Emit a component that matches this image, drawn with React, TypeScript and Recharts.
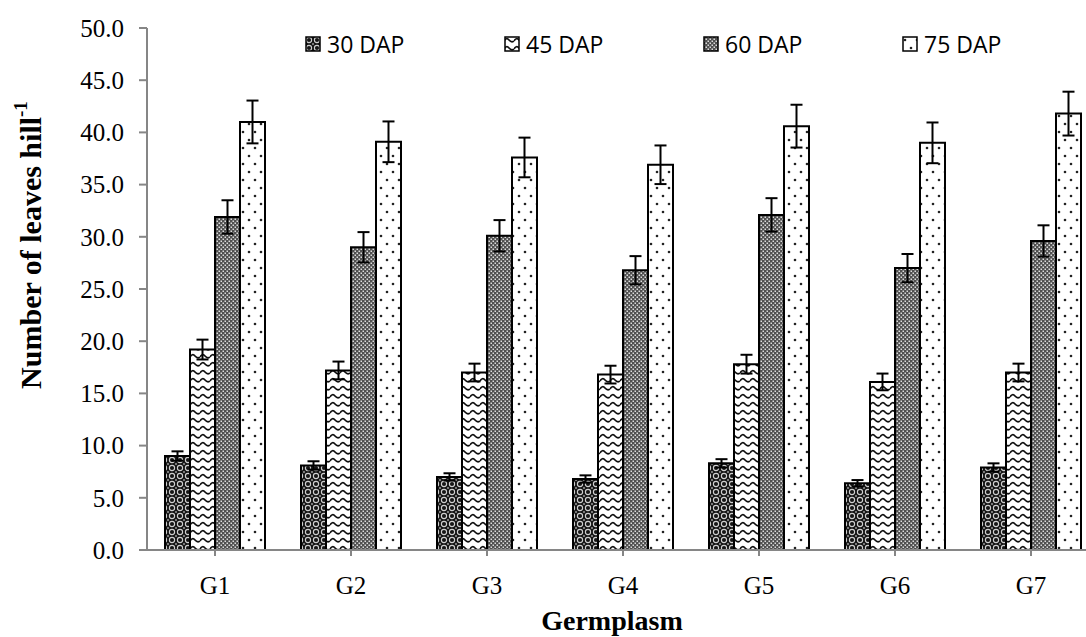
import { BarChart, Bar, XAxis, YAxis, ErrorBar, Label } from "recharts";

const categories = ["G1", "G2", "G3", "G4", "G5", "G6", "G7"];
const dap30 = [9.0, 8.1, 7.0, 6.8, 8.3, 6.4, 7.9];
const dap45 = [19.2, 17.2, 17.0, 16.8, 17.8, 16.1, 17.0];
const dap60 = [31.9, 29.0, 30.1, 26.8, 32.1, 27.0, 29.6];
const dap75 = [41.0, 39.1, 37.6, 36.9, 40.6, 39.0, 41.8];
const err30 = [0.45, 0.4, 0.35, 0.35, 0.4, 0.3, 0.4];
const err45 = [0.95, 0.85, 0.85, 0.85, 0.9, 0.8, 0.85];
const err60 = [1.6, 1.45, 1.5, 1.35, 1.6, 1.35, 1.5];
const err75 = [2.05, 1.95, 1.9, 1.85, 2.05, 1.95, 2.1];
const yTicks = [0, 5, 10, 15, 20, 25, 30, 35, 40, 45, 50];

const SERIES = [
  { key: "d30", err: "e30", label: "30 DAP", pattern: "pat30" },
  { key: "d45", err: "e45", label: "45 DAP", pattern: "pat45" },
  { key: "d60", err: "e60", label: "60 DAP", pattern: "pat60" },
  { key: "d75", err: "e75", label: "75 DAP", pattern: "pat75" },
];

const data = categories.map((name, i) => ({
  name,
  d30: dap30[i],
  d45: dap45[i],
  d60: dap60[i],
  d75: dap75[i],
  e30: err30[i],
  e45: err45[i],
  e60: err60[i],
  e75: err75[i],
}));

const AXIS = "#868686";
const SERIF = "'Liberation Serif', 'Times New Roman', serif";

function Patterns() {
  return (
    <defs>
      {/* dark lattice with light rings */}
      <pattern id="pat30" width="8" height="8" patternUnits="userSpaceOnUse">
        <rect width="8" height="8" fill="#151515" />
        <circle cx="4" cy="4" r="2.6" fill="none" stroke="#cfcfcf" strokeWidth="1.1" />
        <circle cx="0" cy="0" r="1" fill="#9a9a9a" />
        <circle cx="8" cy="0" r="1" fill="#9a9a9a" />
        <circle cx="0" cy="8" r="1" fill="#9a9a9a" />
        <circle cx="8" cy="8" r="1" fill="#9a9a9a" />
      </pattern>
      <pattern id="pat45" width="10" height="8" patternUnits="userSpaceOnUse">
        <rect width="10" height="8" fill="#fff" />
        <path d="M0 5 Q2.5 1 5 4 T10 5" fill="none" stroke="#111" strokeWidth="1.7" />
      </pattern>
      <pattern id="pat60" width="4" height="4" patternUnits="userSpaceOnUse">
        <rect width="4" height="4" fill="#505050" />
        <rect x="0.5" y="0.5" width="1.5" height="1.5" fill="#dcdcdc" />
        <rect x="2.5" y="2.5" width="1.5" height="1.5" fill="#dcdcdc" />
      </pattern>
      <pattern id="pat75" width="12" height="16" patternUnits="userSpaceOnUse">
        <rect width="12" height="16" fill="#fff" />
        <circle cx="3" cy="4" r="1.3" fill="#222" />
        <circle cx="9" cy="12" r="1.3" fill="#222" />
      </pattern>
    </defs>
  );
}

function LegendBox() {
  return (
    <div
      style={{
        position: "absolute",
        left: 305,
        top: 31,
        display: "flex",
        fontFamily: "'Open Sans', sans-serif",
        fontSize: 23,
        color: "#000",
        lineHeight: "26px",
      }}
    >
      {SERIES.map((s) => (
        <div key={s.key} style={{ width: 199, display: "flex", alignItems: "center" }}>
          <svg width="16" height="16" style={{ marginRight: 6 }}>
            <rect x="1" y="1" width="14" height="14" fill={`url(#${s.pattern})`} stroke="#000" strokeWidth="1.5" />
          </svg>
          <span>{s.label}</span>
        </div>
      ))}
    </div>
  );
}

function YTitle(props: any) {
  const vb = props.viewBox || {};
  const cx = 30;
  const cy = vb.y + vb.height / 2 - 44;
  return (
    <text
      x={cx}
      y={cy}
      transform={`rotate(-90 ${cx} ${cy})`}
      textAnchor="middle"
      dominantBaseline="central"
      fontFamily={SERIF}
      fontWeight="bold"
      fontSize={30}
      fill="#000"
    >
      Number of leaves hill
      <tspan fontSize={19} dy={-10}>-1</tspan>
    </text>
  );
}

function XTitle(props: any) {
  const vb = props.viewBox || {};
  return (
    <text
      x={vb.x + vb.width / 2 - 11}
      y={vb.y + 80}
      textAnchor="middle"
      fontFamily={SERIF}
      fontWeight="bold"
      fontSize={28}
      fill="#000"
    >
      Germplasm
    </text>
  );
}

export default function App() {
  return (
    <div style={{ position: "absolute", left: 0, top: 0, width: 1086, height: 637, overflow: "hidden", background: "#fff" }}>
      <BarChart
        width={1110}
        height={637}
        data={data}
        margin={{ top: 28, right: 11, left: 0, bottom: 27 }}
        barCategoryGap={18}
        barGap={0}
      >
        <Patterns />
        <XAxis
          dataKey="name"
          height={60}
          axisLine={{ stroke: AXIS, strokeWidth: 2 }}
          tickLine={{ stroke: AXIS, strokeWidth: 2 }}
          tickSize={6}
          tickMargin={20}
          tick={{ fill: "#000", fontSize: 25, fontFamily: SERIF }}
          interval={0}
        >
          <Label content={<XTitle />} />
        </XAxis>
        <YAxis
          domain={[0, 50]}
          ticks={yTicks}
          interval={0}
          width={147}
          tickFormatter={(v) => Number(v).toFixed(1)}
          axisLine={{ stroke: AXIS, strokeWidth: 2 }}
          tickLine={{ stroke: AXIS, strokeWidth: 2 }}
          tickSize={8}
          tickMargin={15}
          tick={{ fill: "#000", fontSize: 25, fontFamily: SERIF }}
        >
          <Label content={<YTitle />} />
        </YAxis>
        {SERIES.map((s) => (
          <Bar
            key={s.key}
            dataKey={s.key}
            fill={`url(#${s.pattern})`}
            stroke="#000"
            strokeWidth={2}
            isAnimationActive={false}
          >
            <ErrorBar dataKey={s.err} width={6} stroke="#000" strokeWidth={2} isAnimationActive={false} />
          </Bar>
        ))}
      </BarChart>
      <LegendBox />
    </div>
  );
}
